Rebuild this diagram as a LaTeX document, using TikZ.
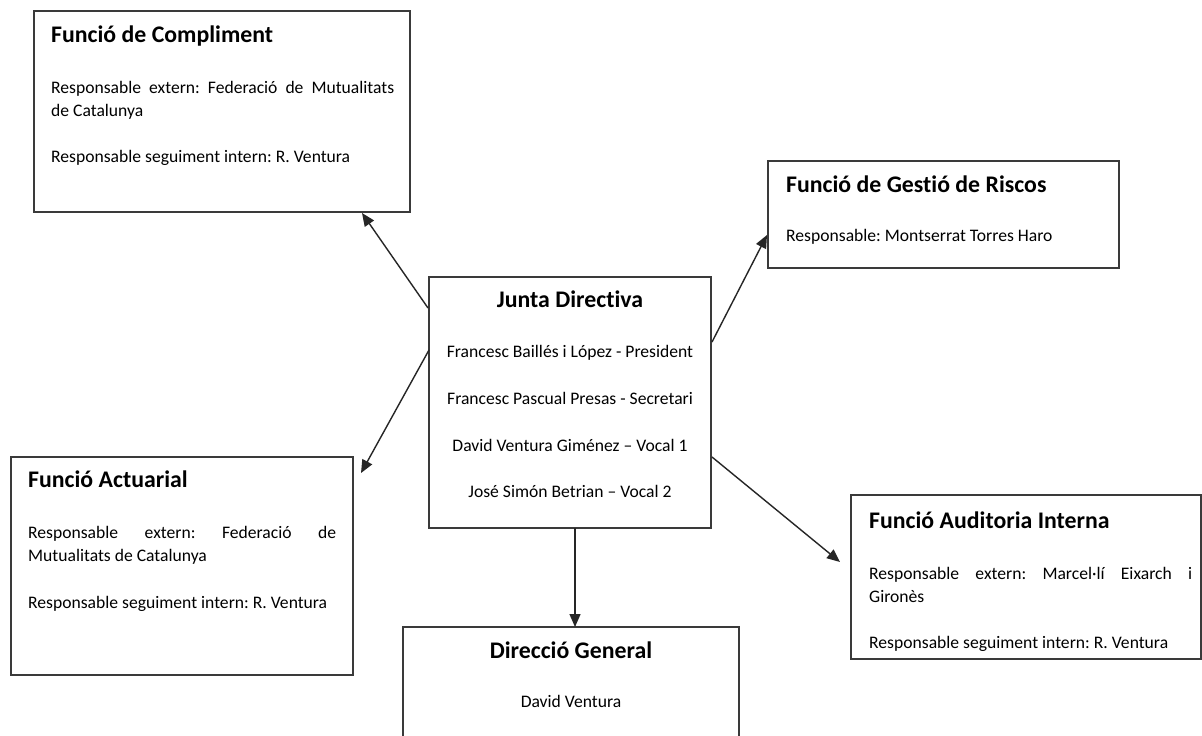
\documentclass[tikz,border=0pt]{standalone}
\usepackage{fontspec}
\setmainfont{Carlito}[Ligatures={NoCommon}]
\usetikzlibrary{arrows.meta,calc}
\definecolor{boxline}{HTML}{3A3A3A}
\frenchspacing
\tikzset{
  box/.style={draw=boxline, line width=1.3pt, inner sep=0pt, outer sep=0pt, anchor=north west, fill=white},
  ttl/.style={inner sep=0pt, font=\fontsize{23.8}{28}\selectfont\bfseries},
  txt/.style={inner sep=0pt, font=\fontsize{17.6}{21}\selectfont},
  arr/.style={draw=black!85, line width=1.4pt, -{Triangle[length=13pt,width=11pt]}}
}
\begin{document}
\begin{tikzpicture}[x=1pt,y=-1pt]
\useasboundingbox[fill=white] (0,0) rectangle (1202,736);
% boxes
\node[box, minimum width=376pt, minimum height=201pt] (compl) at (34,11) {};
\node[box, minimum width=351pt, minimum height=107pt] (risc) at (768,161) {};
\node[box, minimum width=282pt, minimum height=251pt] (junta) at (429,277) {};
\node[box, minimum width=342pt, minimum height=218pt] (actu) at (11,457) {};
\node[box, minimum width=350pt, minimum height=164pt] (audit) at (851,495) {};
\node[box, minimum width=336pt, minimum height=130pt] (dir) at (403,627) {};
% Compliment
\node[ttl, anchor=base west] (complT) at (51,42) {Funció de Compliment};
\node[txt, anchor=base west] (complA) at (51,93) {\makebox[343pt][s]{Responsable extern: Federació de Mutualitats}};
\node[txt, anchor=base west] (complB) at (51,116) {de Catalunya};
\node[txt, anchor=base west] (complC) at (51,162) {Responsable seguiment intern: R. Ventura};
% Riscos
\node[ttl, anchor=base west] (riscT) at (786,192) {Funció de Gestió de Riscos};
\node[txt, anchor=base west] (riscA) at (786,241) {Responsable: Montserrat Torres Haro};
% Junta
\node[ttl, anchor=base] (juntaT) at (570,307) {Junta Directiva};
\node[txt, anchor=base] (juntaA) at (570,357) {Francesc Baillés i López - President};
\node[txt, anchor=base] (juntaB) at (570,404) {Francesc Pascual Presas - Secretari};
\node[txt, anchor=base] (juntaC) at (570,451) {David Ventura Giménez – Vocal 1};
\node[txt, anchor=base] (juntaD) at (570,497) {José Simón Betrian – Vocal 2};
% Actuarial
\node[ttl, anchor=base west] (actuT) at (28,487) {Funció Actuarial};
\node[txt, anchor=base west] (actuA) at (28,538) {\makebox[308pt][s]{Responsable extern: Federació de}};
\node[txt, anchor=base west] (actuB) at (28,561) {Mutualitats de Catalunya};
\node[txt, anchor=base west] (actuC) at (28,608) {Responsable seguiment intern: R. Ventura};
% Auditoria
\node[ttl, anchor=base west] (auditT) at (869,528) {Funció Auditoria Interna};
\node[txt, anchor=base west] (auditA) at (869,579) {\makebox[323pt][s]{Responsable extern: Marcel·lí Eixarch i}};
\node[txt, anchor=base west] (auditB) at (869,602) {Gironès};
\node[txt, anchor=base west] (auditC) at (869,648) {Responsable seguiment intern: R. Ventura};
% Direccio
\node[ttl, anchor=base] (dirT) at (571,658) {Direcció General};
\node[txt, anchor=base] (dirA) at (571,707) {David Ventura};
% arrows
\draw[arr] ($(junta.north west)+(-1,31)$) -- ($(compl.south east)+(-48,1)$);
\draw[arr] ($(junta.north west)+(0,73)$) -- ($(actu.north east)+(8,16)$);
\draw[arr] ($(junta.north east)+(1,65)$) -- ($(risc.south west)+(-1,-33)$);
\draw[arr] ($(junta.north east)+(1,180)$) -- ($(audit.north west)+(-11,67)$);
\draw[arr] ($(junta.south west)+(146,0)$) -- ($(dir.north west)+(172,0)$);
\end{tikzpicture}
\end{document}
